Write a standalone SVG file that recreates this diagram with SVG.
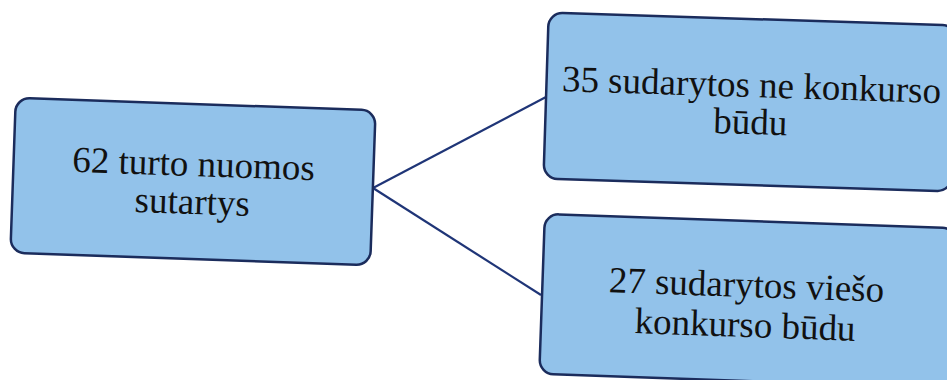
<svg xmlns="http://www.w3.org/2000/svg" width="947" height="380" viewBox="0 0 947 380">
<style>
.box{fill:#92c2ea;stroke:#1b2c5c;stroke-width:2.5}
.t{font-family:"Liberation Serif","Times New Roman",serif;font-size:37px;fill:#111;text-anchor:middle}
.c{stroke:#1f3577;stroke-width:2.2;fill:none}
</style>
<rect width="947" height="380" fill="#ffffff"/>
<g id="connectors">
<line class="c" x1="373" y1="188" x2="546" y2="97"/>
<line class="c" x1="373" y1="188" x2="541" y2="295"/>
</g>
<g id="node-root" transform="rotate(2 193 181)">
<rect class="box" x="13" y="104" width="360" height="155" rx="14"/>
<text class="t" x="193" y="176">62 turto nuomos</text>
<text class="t" x="193" y="214">sutartys</text>
</g>
<g id="node-ne-konkurso" transform="rotate(1.8 749 102)">
<rect class="box" x="546" y="19" width="408" height="166" rx="14"/>
<text class="t" x="751" y="97">35 sudarytos ne konkurso</text>
<text class="t" x="751" y="134">būdu</text>
</g>
<g id="node-viesas-konkursas" transform="rotate(2 747 300)">
<rect class="box" x="542" y="221" width="412" height="160" rx="14"/>
<text class="t" x="746" y="297">27 sudarytos viešo</text>
<text class="t" x="746" y="337">konkurso būdu</text>
</g>
</svg>
